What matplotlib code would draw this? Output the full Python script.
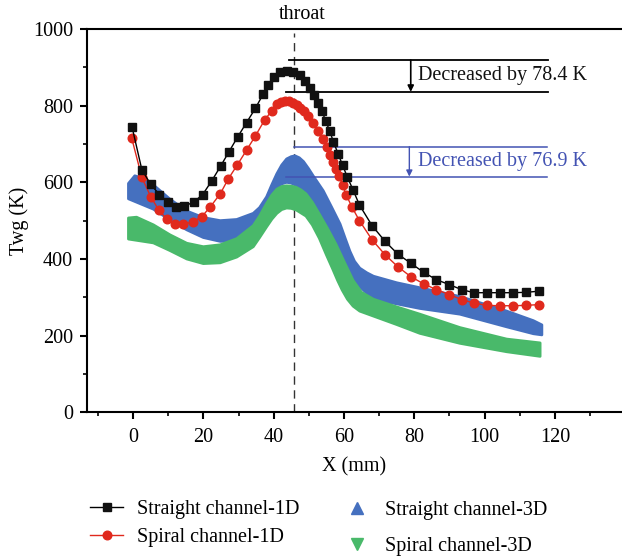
import numpy as np
import matplotlib
matplotlib.use("Agg")
import matplotlib.pyplot as plt
from matplotlib.lines import Line2D

plt.rcParams['font.family'] = ['Liberation Serif', 'DejaVu Serif']

# ---------------- data ----------------
x_str1d = [-0.3, 2.5, 5.0, 7.5, 10.0, 12.3, 14.6, 17.2, 19.8, 22.4, 24.9, 27.3, 29.8, 32.3, 34.8,
           37.0, 38.5, 40.0, 41.8, 43.7, 45.6, 47.4, 48.9, 50.2, 51.4, 52.6, 53.7, 54.8, 55.9, 57.0,
           58.3, 59.6, 60.9, 62.6, 64.4, 68.0, 71.7, 75.3, 79.0, 82.7, 86.3, 90.0, 93.5, 97.0, 100.6,
           104.4, 108.0, 111.8, 115.5]
t_str1d = [745, 633, 595, 568, 548, 536, 538, 548, 568, 604, 642, 680, 719, 756, 793,
           830, 855, 876, 888, 891, 889, 879, 864, 845, 828, 808, 787, 760, 735, 706,
           675, 645, 615, 580, 541, 487, 446, 413, 389, 365, 346, 333, 320, 312, 312,
           312, 312, 313, 316]

x_spi1d = [-0.4, 2.5, 5.0, 7.3, 9.6, 11.9, 14.3, 17.0, 19.5, 21.9, 24.8, 27.1, 29.7, 32.3, 34.8,
           37.4, 39.4, 40.9, 42.1, 43.2, 44.4, 45.6, 46.6, 47.5, 48.7, 49.8, 51.2, 52.6, 53.9, 55.1,
           56.0, 56.9, 57.8, 58.6, 59.6, 60.6, 62.3, 64.4, 68.0, 71.7, 75.3, 79.0, 82.7, 86.3, 90.0,
           93.5, 97.0, 100.6, 104.4, 108.0, 111.8, 115.5]
t_spi1d = [716, 613, 563, 528, 504, 491, 490, 497, 510, 535, 570, 609, 646, 684, 721,
           762, 786, 804, 810, 811, 811, 808, 802, 795, 785, 773, 755, 734, 712, 691,
           671, 652, 635, 617, 593, 568, 535, 500, 450, 411, 380, 354, 335, 320, 307,
           294, 285, 279, 278, 278, 279, 281]

# 3D results: band of wall temperatures (upper / lower envelope)
x_str3d_hi = [-1.3, 0.5, 2.0, 5.8, 10.5, 15.3, 20.0, 24.8, 29.5, 34.2, 36.0, 38.0, 39.5, 40.9,
              42.3, 43.7, 45.0, 46.1, 47.3, 48.5, 49.9, 51.3, 52.7, 54.1, 56.5, 58.9, 60.3,
              61.7, 63.0, 64.5, 66.5, 68.4, 75.0, 81.6, 93.0, 106.3, 113.9, 116.3]
t_str3d_hi = [597, 617, 613, 593, 556, 525, 508, 500, 503, 519, 534, 562, 594, 622,
              645, 661, 667, 669, 664, 654, 636, 616, 597, 578, 535, 491, 455,
              420, 394, 376, 364, 355, 338, 325, 302, 264, 239, 228]
x_str3d_lo = [-1.3, 5.8, 10.5, 15.3, 20.0, 24.8, 29.5, 34.2, 36.0, 38.0, 39.5, 40.9, 42.3,
              43.7, 45.0, 46.4, 49.2, 53.0, 57.7, 62.0, 68.4, 75.0, 81.6, 93.0, 106.3, 113.9, 116.3]
t_str3d_lo = [557, 530, 502, 476, 456, 446, 446, 462, 488, 530, 562, 585, 596,
              600, 598, 592, 572, 518, 440, 350, 294, 283, 271, 256, 223, 205, 202]

x_spi3d_hi = [-1.3, 1.0, 5.8, 10.5, 15.3, 20.0, 24.8, 29.5, 34.2, 36.0, 38.0, 39.5, 40.9, 42.3,
              43.7, 45.0, 46.4, 47.8, 49.2, 51.0, 53.0, 55.3, 57.7, 60.2, 62.6, 65.0, 68.4, 75.0,
              81.6, 93.0, 106.3, 115.8]
t_spi3d_hi = [507, 509, 489, 463, 441, 432, 437, 453, 487, 512, 545, 567, 582, 589,
              591, 590, 587, 580, 570, 548, 517, 480, 439, 390, 344, 313, 295, 275,
              256, 221, 191, 181]
x_spi3d_lo = [-1.3, 5.8, 10.5, 15.3, 20.0, 24.8, 29.5, 34.2, 36.0, 38.0, 39.5, 40.9, 42.3,
              43.7, 45.0, 46.4, 49.2, 51.0, 53.0, 55.0, 56.8, 58.2, 59.5, 61.0, 62.6, 64.5, 68.4,
              75.0, 81.6, 93.0, 106.3, 115.8]
t_spi3d_lo = [452, 442, 422, 400, 388, 390, 405, 432, 456, 484, 504, 519, 529,
              533, 532, 528, 512, 489, 454, 411, 374, 344, 319, 295, 277, 264, 251,
              229, 206, 180, 158, 146]

throat_x = 45.8
drop_1d = [919, 836]   # reference levels for the 1D peak decrease
drop_3d = [693, 615]   # reference levels for the 3D peak decrease
label_1d = "Decreased by 78.4 K"
label_3d = "Decreased by 76.9 K"

# ---------------- figure ----------------
W, H = 622, 559
FS = 14.5
fig = plt.figure(figsize=(W / 100, H / 100), dpi=100)
ax = fig.add_axes([87 / W, 1 - 412.3 / H, (622 - 87) / W, (412.3 - 29) / H])

c_blue = '#4570BF'
c_green = '#49B96A'
c_red = '#E0291D'
c_ann = '#4353B3'

ax.fill(np.r_[x_str3d_hi, x_str3d_lo[::-1]], np.r_[t_str3d_hi, t_str3d_lo[::-1]],
        color=c_blue, lw=2.0, ec=c_blue, joinstyle='round', zorder=2)
ax.fill(np.r_[x_spi3d_hi, x_spi3d_lo[::-1]], np.r_[t_spi3d_hi, t_spi3d_lo[::-1]],
        color=c_green, lw=2.0, ec=c_green, joinstyle='round', zorder=3)

ax.plot(x_str1d, t_str1d, color='black', lw=1.0, marker='s', ms=5.5, mfc='#111111',
        mec='#111111', zorder=5)
ax.plot(x_spi1d, t_spi1d, color=c_red, lw=1.0, marker='o', ms=6.2, mfc=c_red,
        mec=c_red, zorder=4)

ax.axvline(throat_x, ymin=0, ymax=0.99, color='#333333', lw=1.0, ls=(0, (6, 4)), zorder=1)
ax.text(throat_x + 2.4, 1026, "throat", ha='center', va='baseline', fontsize=FS)

# annotation lines
ax.plot([44.5, 118.1], [drop_1d[0]] * 2, color='black', lw=1.3)
ax.plot([43.5, 118.1], [drop_1d[1]] * 2, color='black', lw=1.3)
ax.annotate("", xy=(79.0, drop_1d[1]), xytext=(79.0, drop_1d[0]),
            arrowprops=dict(arrowstyle='-|>', color='black', lw=1.2, mutation_scale=9,
                            shrinkA=0, shrinkB=0))
ax.text(81.2, (drop_1d[0] + drop_1d[1]) / 2, label_1d, ha='left', va='center',
        fontsize=FS, color='#111111')

ax.plot([45.8, 117.7], [drop_3d[0]] * 2, color=c_ann, lw=1.1)
ax.plot([43.5, 117.7], [drop_3d[1]] * 2, color=c_ann, lw=1.1)
ax.annotate("", xy=(78.6, drop_3d[1]), xytext=(78.6, drop_3d[0]),
            arrowprops=dict(arrowstyle='-|>', color=c_ann, lw=1.0, mutation_scale=9,
                            shrinkA=0, shrinkB=0))
ax.text(81.2, (drop_3d[0] + drop_3d[1]) / 2, label_3d, ha='left', va='center',
        fontsize=FS, color=c_ann)

# axes
ax.set_xlim(-13.1, 139.1)
ax.set_ylim(0, 1000)
ax.set_xticks(np.arange(0, 121, 20))
ax.set_xticks(np.arange(-10, 131, 10), minor=True)
ax.set_yticks(np.arange(0, 1001, 200))
ax.set_yticks(np.arange(0, 1001, 100), minor=True)
ax.spines['right'].set_visible(False)
for s in ['left', 'bottom', 'top']:
    ax.spines[s].set_linewidth(1.5)
ax.tick_params(which='major', direction='out', length=5, width=1.5, labelsize=FS,
               top=False, right=False)
ax.tick_params(axis='x', which='major', pad=6)
ax.tick_params(axis='y', which='major', pad=5)
ax.tick_params(which='minor', direction='out', length=3, width=1.2, top=False, right=False)
ax.set_xlabel("X (mm)", fontsize=FS, labelpad=8)
ax.set_ylabel("Twg (K)", fontsize=FS, labelpad=3)

# legends
h1 = Line2D([], [], color='black', lw=1.0, marker='s', ms=5.5, mfc='#111111', mec='#111111')
h2 = Line2D([], [], color=c_red, lw=1.0, marker='o', ms=6.2, mfc=c_red, mec=c_red)
h3 = Line2D([], [], ls='none', marker='^', ms=8.5, color=c_blue)
h4 = Line2D([], [], ls='none', marker='v', ms=8.5, color=c_green)
leg1 = fig.legend([h1, h2], ["Straight channel-1D", "Spiral channel-1D"],
                  loc='upper left', bbox_to_anchor=(90 / W, 1 - 500 / H), frameon=False,
                  fontsize=FS, handlelength=1.65, handletextpad=0.7, labelspacing=0.45,
                  borderpad=0, borderaxespad=0)
leg2 = fig.legend([h3, h4], ["Straight channel-3D", "Spiral channel-3D"],
                  loc='upper left', bbox_to_anchor=(347 / W, 1 - 501 / H), frameon=False,
                  fontsize=FS, handlelength=1.0, handletextpad=0.9, labelspacing=0.85,
                  borderpad=0, borderaxespad=0)

fig.savefig("out.png", dpi=100)
